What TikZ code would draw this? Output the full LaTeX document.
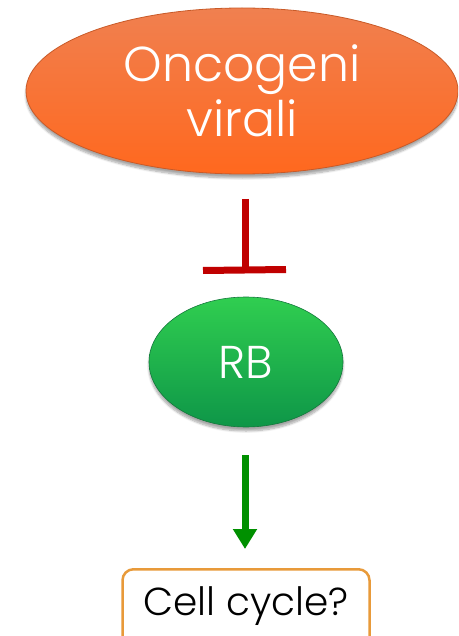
\documentclass[tikz,border=0pt]{standalone}
\usepackage{fontspec}
\setmainfont{Poppins}[UprightFont=* Light]
\usetikzlibrary{shapes.geometric,shadows.blur,arrows.meta}
\definecolor{inhibred}{HTML}{C00000}
\definecolor{actgreen}{HTML}{009000}
\definecolor{boxorange}{HTML}{E89A3A}
\tikzset{
  bubble/.style={ellipse, inner sep=0pt, text=white, align=center,
    blur shadow={shadow blur steps=8, shadow xshift=0pt, shadow yshift=-4pt, shadow opacity=35}},
  inhibit/.style={draw=inhibred, line width=7pt},
  promote/.style={draw=actgreen, line width=7pt,
    -{Triangle[length=20pt,width=23pt]}},
  outcome/.style={draw=boxorange, line width=2.5pt, rounded corners=11pt,
    fill=white, text=black, inner sep=0pt}
}
\begin{document}
\begin{tikzpicture}[x=1pt,y=-1pt]
  \useasboundingbox (0,0) rectangle (458,636);
  \clip (0,0) rectangle (458,636);
  % top oval: viral oncogenes
  \node[bubble, minimum width=432pt, minimum height=166pt,
        top color={rgb,255:red,240;green,128;blue,80},
        bottom color={rgb,255:red,255;green,104;blue,30},
        draw={rgb,255:red,200;green,90;blue,40}, line width=0.8pt,
        font=\fontsize{49}{55}\selectfont]
        (onc) at (242,91) {Oncogeni\\virali};
  % middle oval: RB
  \node[bubble, minimum width=194pt, minimum height=130pt,
        top color={rgb,255:red,48;green,206;blue,80},
        bottom color={rgb,255:red,14;green,150;blue,72},
        draw={rgb,255:red,20;green,120;blue,60}, line width=0.6pt,
        font=\fontsize{46}{50}\selectfont]
        (rb) at (246,362) {RB};
  % bottom box: outcome
  \node[outcome, minimum width=247pt, minimum height=80pt, anchor=north]
        (cc) at (246,568) {};
  \node[font=\fontsize{39}{44}\selectfont, anchor=base] (cct) at (246,615) {Cell cycle?};
  % inhibition from oncogenes to RB
  \coordinate (inhA) at (245,199);
  \coordinate (inhB) at (245,270);
  \coordinate (barL) at (203,270.5);
  \coordinate (barR) at (286,269.5);
  \draw[inhibit] (inhA) -- (inhB);
  \draw[inhibit] (barL) -- (barR);
  % activation from RB to the cell cycle
  \coordinate (actA) at (245,455);
  \coordinate (actB) at (245,549);
  \draw[promote] (actA) -- (actB);
\end{tikzpicture}
\end{document}
